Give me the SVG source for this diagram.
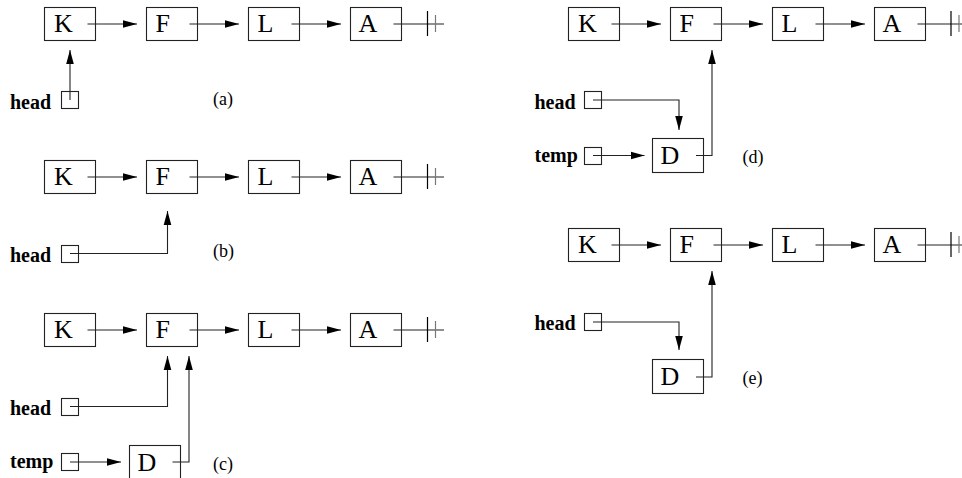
<svg xmlns="http://www.w3.org/2000/svg" width="962" height="478" viewBox="0 0 962 478">
<defs>
<style>
.box{fill:none;stroke:#222;stroke-width:1.1}
.ln{fill:none;stroke:#222;stroke-width:1.1}
.big{font-family:"Liberation Serif","Times New Roman",serif;font-size:26px;fill:#000}
.lbl{font-family:"Liberation Serif","Times New Roman",serif;font-size:20px;font-weight:bold;fill:#000}
.cap{font-family:"Liberation Serif","Times New Roman",serif;font-size:18px;fill:#000}
.bar1{stroke:#000;stroke-width:1.2}
.bar2{stroke:#777;stroke-width:1.2}
</style>
<marker id="ah" markerUnits="userSpaceOnUse" markerWidth="15" markerHeight="9" refX="14" refY="4.5" orient="auto">
<path d="M0,0.7 L14,4.5 L0,8.3 z" fill="#000"/>
</marker>
</defs>
<rect width="962" height="478" fill="#fff"/>

<!-- Panel (a) -->
<g id="a-K"><rect class="box" x="44.5" y="7.5" width="51" height="33"/><text class="big" x="54" y="32">K</text></g>
<g id="a-F"><rect class="box" x="146.5" y="7.5" width="51" height="33"/><text class="big" x="155.5" y="32">F</text></g>
<g id="a-L"><rect class="box" x="248.5" y="7.5" width="51" height="33"/><text class="big" x="257.5" y="32">L</text></g>
<g id="a-A"><rect class="box" x="350.5" y="7.5" width="51" height="33"/><text class="big" x="358.5" y="32">A</text></g>
<g id="a-head"><rect class="box" x="61.5" y="91.5" width="17" height="17"/><text class="lbl" x="10" y="108.5">head</text></g>
<text class="cap" x="213" y="105">(a)</text>

<!-- Panel (b) -->
<g id="b-K"><rect class="box" x="44.5" y="160.5" width="51" height="33"/><text class="big" x="54" y="185">K</text></g>
<g id="b-F"><rect class="box" x="146.5" y="160.5" width="51" height="33"/><text class="big" x="155.5" y="185">F</text></g>
<g id="b-L"><rect class="box" x="248.5" y="160.5" width="51" height="33"/><text class="big" x="257.5" y="185">L</text></g>
<g id="b-A"><rect class="box" x="350.5" y="160.5" width="51" height="33"/><text class="big" x="358.5" y="185">A</text></g>
<g id="b-head"><rect class="box" x="61.5" y="245.5" width="17" height="17"/><text class="lbl" x="10" y="261.5">head</text></g>
<text class="cap" x="213" y="257">(b)</text>

<!-- Panel (c) -->
<g id="c-K"><rect class="box" x="44.5" y="313.5" width="51" height="33"/><text class="big" x="54" y="338">K</text></g>
<g id="c-F"><rect class="box" x="146.5" y="313.5" width="51" height="33"/><text class="big" x="155.5" y="338">F</text></g>
<g id="c-L"><rect class="box" x="248.5" y="313.5" width="51" height="33"/><text class="big" x="257.5" y="338">L</text></g>
<g id="c-A"><rect class="box" x="350.5" y="313.5" width="51" height="33"/><text class="big" x="358.5" y="338">A</text></g>
<g id="c-D"><rect class="box" x="129.5" y="445.5" width="51" height="34"/><text class="big" x="137.5" y="470.5">D</text></g>
<g id="c-head"><rect class="box" x="61.5" y="398.5" width="17" height="17"/><text class="lbl" x="10" y="415">head</text></g>
<g id="c-temp"><rect class="box" x="61.5" y="453.5" width="17" height="17"/><text class="lbl" x="10" y="468">temp</text></g>
<text class="cap" x="213" y="469.5">(c)</text>

<!-- Panel (d) -->
<g id="d-K"><rect class="box" x="568.5" y="7.5" width="51" height="33"/><text class="big" x="578" y="32">K</text></g>
<g id="d-F"><rect class="box" x="670.5" y="7.5" width="51" height="33"/><text class="big" x="679.5" y="32">F</text></g>
<g id="d-L"><rect class="box" x="772.5" y="7.5" width="51" height="33"/><text class="big" x="781.5" y="32">L</text></g>
<g id="d-A"><rect class="box" x="874.5" y="7.5" width="51" height="33"/><text class="big" x="882.5" y="32">A</text></g>
<g id="d-D"><rect class="box" x="652.5" y="138.5" width="51" height="34"/><text class="big" x="660.5" y="164">D</text></g>
<g id="d-head"><rect class="box" x="584.5" y="91.5" width="17" height="17"/><text class="lbl" x="534.5" y="108.5">head</text></g>
<g id="d-temp"><rect class="box" x="584.5" y="147.5" width="17" height="17"/><text class="lbl" x="534.5" y="161.5">temp</text></g>
<text class="cap" x="742.5" y="162.5">(d)</text>

<!-- Panel (e) -->
<g id="e-K"><rect class="box" x="568.5" y="228.5" width="51" height="33"/><text class="big" x="578" y="253">K</text></g>
<g id="e-F"><rect class="box" x="670.5" y="228.5" width="51" height="33"/><text class="big" x="679.5" y="253">F</text></g>
<g id="e-L"><rect class="box" x="772.5" y="228.5" width="51" height="33"/><text class="big" x="781.5" y="253">L</text></g>
<g id="e-A"><rect class="box" x="874.5" y="228.5" width="51" height="33"/><text class="big" x="882.5" y="253">A</text></g>
<g id="e-D"><rect class="box" x="652.5" y="359.5" width="51" height="34"/><text class="big" x="660.5" y="385">D</text></g>
<g id="e-head"><rect class="box" x="584.5" y="313.5" width="17" height="17"/><text class="lbl" x="534.5" y="329.5">head</text></g>
<text class="cap" x="742.5" y="383.5">(e)</text>

<g id="connectors">
<!-- (a) -->
<path class="ln" d="M87.5,24 H137" marker-end="url(#ah)"/>
<path class="ln" d="M189.5,24 H239" marker-end="url(#ah)"/>
<path class="ln" d="M291.5,24 H341" marker-end="url(#ah)"/>
<path class="ln" d="M393.5,24 H444"/>
<line class="bar1" x1="427.5" y1="11" x2="427.5" y2="36"/>
<line class="bar2" x1="435.5" y1="15" x2="435.5" y2="32"/>
<path class="ln" d="M70,100 V50" marker-end="url(#ah)"/>
<!-- (b) -->
<path class="ln" d="M87.5,177 H137" marker-end="url(#ah)"/>
<path class="ln" d="M189.5,177 H239" marker-end="url(#ah)"/>
<path class="ln" d="M291.5,177 H341" marker-end="url(#ah)"/>
<path class="ln" d="M393.5,177 H444"/>
<line class="bar1" x1="427.5" y1="164" x2="427.5" y2="189"/>
<line class="bar2" x1="435.5" y1="168" x2="435.5" y2="185"/>
<path class="ln" d="M70,253.5 H167.5 V211" marker-end="url(#ah)"/>
<!-- (c) -->
<path class="ln" d="M87.5,330 H137" marker-end="url(#ah)"/>
<path class="ln" d="M189.5,330 H239" marker-end="url(#ah)"/>
<path class="ln" d="M291.5,330 H341" marker-end="url(#ah)"/>
<path class="ln" d="M393.5,330 H444"/>
<line class="bar1" x1="427.5" y1="317" x2="427.5" y2="342"/>
<line class="bar2" x1="435.5" y1="321" x2="435.5" y2="338"/>
<path class="ln" d="M70,406.5 H167.5 V356" marker-end="url(#ah)"/>
<path class="ln" d="M70,462 H121" marker-end="url(#ah)"/>
<path class="ln" d="M172.5,462 H189 V356" marker-end="url(#ah)"/>
<!-- (d) -->
<path class="ln" d="M611.5,24 H661" marker-end="url(#ah)"/>
<path class="ln" d="M713.5,24 H763" marker-end="url(#ah)"/>
<path class="ln" d="M815.5,24 H865" marker-end="url(#ah)"/>
<path class="ln" d="M917.5,24 H962"/>
<line class="bar1" x1="951" y1="11" x2="951" y2="36"/>
<line class="bar2" x1="959" y1="15" x2="959" y2="32"/>
<path class="ln" d="M593,100 H679 V130" marker-end="url(#ah)"/>
<path class="ln" d="M593,155.5 H644.5" marker-end="url(#ah)"/>
<path class="ln" d="M696,155.5 H712 V50" marker-end="url(#ah)"/>
<!-- (e) -->
<path class="ln" d="M611.5,245 H661" marker-end="url(#ah)"/>
<path class="ln" d="M713.5,245 H763" marker-end="url(#ah)"/>
<path class="ln" d="M815.5,245 H865" marker-end="url(#ah)"/>
<path class="ln" d="M917.5,245 H962"/>
<line class="bar1" x1="951" y1="232" x2="951" y2="257"/>
<line class="bar2" x1="959" y1="236" x2="959" y2="253"/>
<path class="ln" d="M593,322 H679 V350" marker-end="url(#ah)"/>
<path class="ln" d="M696,377 H712 V271" marker-end="url(#ah)"/>
</g>
</svg>
